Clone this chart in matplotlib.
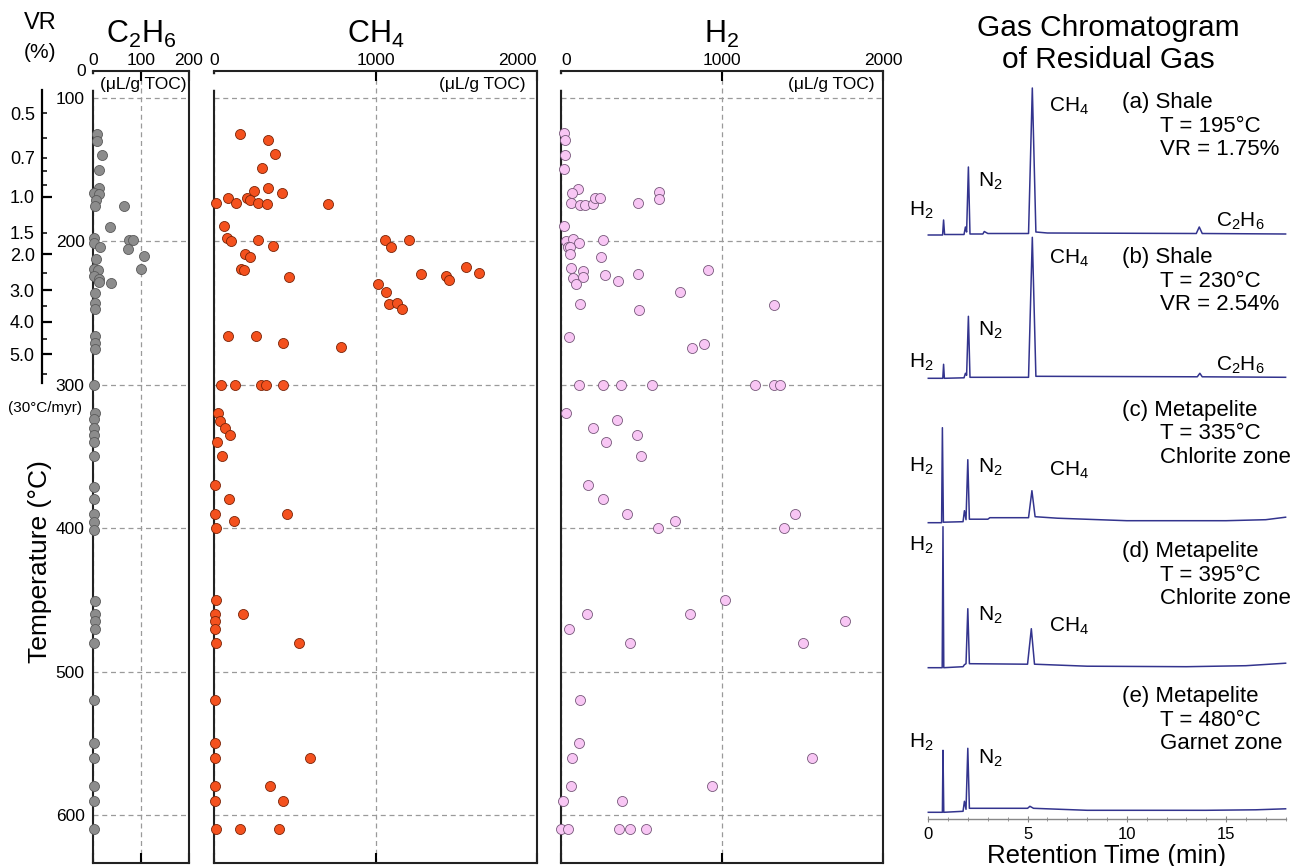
import numpy as np
import matplotlib
matplotlib.use('Agg')
import matplotlib.pyplot as plt
from matplotlib.ticker import FixedLocator, FixedFormatter

plt.rcParams['font.family'] = ['Liberation Sans', 'DejaVu Sans']
plt.rcParams['mathtext.fontset'] = 'custom'
plt.rcParams['mathtext.rm'] = 'Liberation Sans'
plt.rcParams['mathtext.it'] = 'Liberation Sans:italic'
plt.rcParams['mathtext.bf'] = 'Liberation Sans:bold'

# ---- gas contents (uL/g TOC) vs temperature (C) ----
c2h6_temp = [125, 130, 140, 150, 163, 166, 167, 171, 175, 175, 190, 198, 201, 204, 199, 199, 205, 210,
             212, 219, 219, 220, 224, 226, 228, 229, 236, 243, 247, 266, 271, 275, 300, 320, 324, 330,
             335, 340, 350, 371, 380, 390, 396, 401, 451, 460, 465, 470, 480, 520, 550, 560, 580, 590, 610]
c2h6_val = [8, 9, 19, 13, 12, 2, 12, 6, 4, 65, 35, 3, 3, 15, 76, 84, 72, 106,
            6, 100, 2, 10, 2, 13, 13, 38, 4, 4, 4, 4, 4, 4, 3, 5, 3, 3,
            3, 3, 3, 3, 3, 3, 3, 3, 5, 4, 4, 4, 3, 3, 3, 3, 3, 3, 3]

ch4_temp = [125, 129, 139, 149, 165, 163, 166, 173, 170, 173, 170, 171, 173, 174, 174, 189, 198, 200,
            199, 203, 209, 211, 219, 220, 225, 199, 204, 199, 223, 224, 227, 218, 222, 229.5, 235, 244,
            243, 247, 266, 266, 271, 274, 300, 300, 300, 300, 300, 320, 325, 330, 335, 340, 350, 370,
            380, 390, 390, 395, 400, 450, 460, 460, 465, 470, 480, 480, 520, 550, 560, 560, 580, 580,
            590, 590, 610, 610, 610]
ch4_val = [161, 336, 376, 295, 250, 332, 421, 10, 89, 134, 202, 223, 274, 328, 706, 64, 79, 105,
           274, 365, 192, 225, 169, 188, 462, 1061, 1098, 1209, 1280, 1437, 1455, 1560, 1639, 1018, 1065, 1084,
           1131, 1162, 89, 262, 425, 786, 41, 130, 293, 320, 425, 27, 37, 70, 97, 19, 48, 6,
           95, 6, 450, 122, 10, 12, 6, 180, 6, 6, 10, 526, 6, 8, 8, 594, 8, 347,
           8, 429, 10, 161, 402]

h2_temp = [124.6, 129.5, 139.5, 149.5, 163.5, 166, 173, 174.6, 174.6, 173.7, 170, 170, 173, 165.5, 170.6,
           189, 199.7, 198.6, 201, 204, 203.7, 199, 209, 211, 218.8, 220.6, 225.7, 224.6, 229.5, 223.4,
           227.4, 222.5, 219.7, 235.5, 243.4, 247.6, 244.6, 266.4, 274.3, 271.5, 300, 300, 300, 300, 300,
           300, 300, 320, 324.8, 330, 335, 340, 350, 370, 380, 390, 395, 400, 390, 400, 450, 460, 460,
           465, 470, 480, 480, 520, 550, 560, 560, 580, 580, 590, 590, 610, 610, 610, 610, 610]
h2_val = [19, 23, 23, 17, 107, 70, 64, 116, 151, 201, 211, 242, 478, 611, 611,
          17, 29, 77, 114, 42, 58, 263, 56, 247, 62, 135, 73, 135, 91, 273,
          356, 480, 911, 737, 118, 484, 1323, 52, 815, 890, 110, 263, 373, 567, 1205,
          1321, 1362, 31, 346, 201, 470, 278, 499, 170, 259, 408, 710, 601, 1451, 1385, 1019, 159, 801,
          1762, 48, 427, 1501, 120, 110, 66, 1559, 62, 936, 14, 377, 0, 45, 362, 427, 525]

# vitrinite reflectance scale (30 C/myr) : VR value and matching temperature
vr_major = [1.0, 2.0, 3.0, 4.0, 5.0]
vr_major_temp = [168.8, 209.0, 234.1, 256.0, 278.7]
vr_minor = [0.5, 0.6, 0.7, 0.8, 0.9, 1.5, 2.5, 3.5, 4.5, 5.5]
vr_minor_temp = [110.7, 128.1, 141.6, 150.9, 160.9, 193.9, 221.8, 245.0, 267.8, 292.7]
vr_minor_labels = ['0.5', '', '0.7', '', '', '1.5', '', '', '', '']

# ---- chromatograms: retention time (min) and signal above baseline ----
chrom_a_t = [0, 0.72, 0.77, 0.82, 1.80, 1.87, 1.93, 2.02, 2.10, 2.75, 2.82, 3.0, 5.05, 5.24, 5.42, 6.0,
             13.5, 13.65, 13.8, 18.0]
chrom_a_s = [0, 0, 15, 0.5, 0.5, 8, 3, 68, 1, 1, 3.5, 1.5, 1.5, 147, 3, 2, 1.5, 8, 1.5, 1]
chrom_b_t = [0, 0.73, 0.77, 0.81, 1.80, 1.87, 1.93, 2.02, 2.10, 5.05, 5.24, 5.42, 13.55, 13.68, 13.8, 18.0]
chrom_b_s = [0, 0, 14, 0, 0.5, 5, 3, 62, 1, 1, 141, 2, 1.5, 5, 1.5, 1]
chrom_c_t = [0, 0.67, 0.71, 0.76, 1.75, 1.82, 1.90, 1.99, 2.07, 3.0, 3.1, 5.05, 5.22, 5.38, 6.5, 10.0,
             15.0, 17.0, 18.0]
chrom_c_s = [0, 0, 95, 0.5, 1, 12, 3, 63, 3.5, 3.5, 5, 5, 32, 6, 4.5, 2, 2, 3, 5.5]
chrom_d_t = [0, 0.70, 0.74, 0.78, 1.75, 1.82, 1.90, 1.99, 2.07, 5.0, 5.19, 5.35, 8.0, 13.0, 16.0, 18.0]
chrom_d_s = [0, 0, 141, 0, 1, 3, 4, 59, 4, 3.5, 39, 3.5, 1.5, 1, 2, 4.5]
chrom_e_t = [0, 0.71, 0.74, 0.78, 1.75, 1.82, 1.90, 1.99, 2.07, 5.0, 5.12, 5.3, 8.0, 14.0, 16.5, 18.0]
chrom_e_s = [0, 0, 62, 0, 1, 11, 3, 64, 4, 4, 6, 4, 2, 2, 2.5, 3.5]

W, H = 1292, 866
fig = plt.figure(figsize=(W / 100, H / 100), dpi=100)

def fbox(x0, x1, y0, y1):
    return [x0 / W, 1 - y1 / H, (x1 - x0) / W, (y1 - y0) / H]

TOP_T, BOT_T = 81.2, 633.5
grid_kw = dict(color='#9a9a9a', linestyle=(0, (4, 3)), linewidth=0.9)

def gas_panel(box, xmax, xticks, temp, val, fc, ec, title, unit_x):
    ax = fig.add_axes(box)
    ax.set_xlim(0, xmax)
    ax.set_ylim(BOT_T, TOP_T)
    ax.set_xticks(xticks)
    ax.set_yticks([100, 200, 300, 400, 500, 600])
    ax.tick_params(axis='x', which='both', direction='in', top=True, bottom=True,
                   labeltop=True, labelbottom=False, length=7, width=1.5, labelsize=12.5, pad=2)
    ax.tick_params(axis='y', length=0, labelsize=12.5, pad=6)
    ax.grid(True, **grid_kw)
    ax.set_axisbelow(True)
    for sp in ax.spines.values():
        sp.set_linewidth(1.5)
        sp.set_color('#222222')
    ax.scatter(val, temp, s=52, c=fc, edgecolors=ec, linewidths=0.6, zorder=4, clip_on=False)
    # small break in the left spine near the top
    ax.plot([0, 0], [85.5, 92.5], color='white', lw=4, transform=ax.get_yaxis_transform(),
            clip_on=False, zorder=5)
    ax.text(unit_x, 90.3, '(\u03bcL/g TOC)', transform=ax.get_yaxis_transform(),
            ha='right', va='center', fontsize=12.5)
    ax.set_title(title, fontsize=22, pad=20)
    return ax

ax_c2 = gas_panel(fbox(93, 189, 71, 863), 200, [0, 100, 200], c2h6_temp, c2h6_val,
                  '#8c8c8c', '#5a5a5a', r'C$_2$H$_6$', 0.97)
ax_ch4 = gas_panel(fbox(214, 537, 71, 863), 2000, [0, 1000, 2000], ch4_temp, ch4_val,
                   '#f4511e', '#7a2408', r'CH$_4$', 0.965)
ax_h2 = gas_panel(fbox(561, 883, 71, 863), 2000, [0, 1000, 2000], h2_temp, h2_val,
                  '#f8c6f4', '#76587a', r'H$_2$', 0.975)
for ax in (ax_ch4, ax_h2):
    ax.tick_params(axis='y', labelleft=False)
fig.canvas.draw()
ax_ch4.get_xticklabels()[-1].set_horizontalalignment('right')
ax_h2.get_xticklabels()[0].set_horizontalalignment('left')
ax_c2.text(-0.075, 81.7, '0', transform=ax_c2.get_yaxis_transform(), ha='right', va='center',
           fontsize=12.5)

# VR scale
ax_vr = fig.add_axes(fbox(41.7, 42.5, 71, 863))
ax_vr.set_ylim(BOT_T, TOP_T)
ax_vr.set_xticks([])
for k in ('top', 'right', 'bottom'):
    ax_vr.spines[k].set_visible(False)
ax_vr.patch.set_visible(False)
ax_vr.spines['left'].set_linewidth(1.6)
ax_vr.spines['left'].set_bounds(94.4, 298.5)
ax_vr.yaxis.set_major_locator(FixedLocator(vr_major_temp))
ax_vr.yaxis.set_major_formatter(FixedFormatter(['%.1f' % v for v in vr_major]))
ax_vr.yaxis.set_minor_locator(FixedLocator(vr_minor_temp))
ax_vr.yaxis.set_minor_formatter(FixedFormatter(vr_minor_labels))
ax_vr.tick_params(axis='y', which='major', direction='in', length=7.5, width=1.6, labelsize=13, pad=5)
ax_vr.tick_params(axis='y', which='minor', direction='in', length=3.8, width=1.1, labelsize=13, pad=5)

fig.text(40 / W, 1 - 23 / H, 'VR', ha='center', va='center', fontsize=17)
fig.text(40 / W, 1 - 52 / H, '(%)', ha='center', va='center', fontsize=15)
fig.text(45 / W, 1 - 408 / H, '(30\u00b0C/myr)', ha='center', va='center', fontsize=11)
fig.text(40 / W, 1 - 562 / H, 'Temperature (\u00b0C)', ha='center', va='center', rotation=90,
         fontsize=19)

# chromatograms
axg = fig.add_axes(fbox(928.3, 1285.6, 70, 819))
axg.set_xlim(0, 18)
axg.set_ylim(47, 796)
traces = [(chrom_a_t, chrom_a_s, 631), (chrom_b_t, chrom_b_s, 487.7), (chrom_c_t, chrom_c_s, 343.3),
          (chrom_d_t, chrom_d_s, 198.3), (chrom_e_t, chrom_e_s, 53.7)]
for t, s, base in traces:
    axg.plot(t, np.array(s) + base, color='#33348e', lw=1.1, clip_on=False)
for k in ('top', 'right', 'left'):
    axg.spines[k].set_visible(False)
axg.spines['bottom'].set_color('#888888')
axg.spines['bottom'].set_linewidth(1)
axg.set_yticks([])
axg.set_xticks([0, 5, 10, 15])
axg.set_xticks(np.arange(0, 19, 1), minor=True)
axg.tick_params(axis='x', which='major', direction='inout', length=5, color='#888888', labelsize=12, pad=3)
axg.tick_params(axis='x', which='minor', direction='inout', length=3, color='#888888')
axg.set_xlabel('Retention Time (min)', fontsize=18.5, labelpad=2)
axg.patch.set_visible(False)

def px(x, y):
    return (x - 928.3) / 19.85, 866 - y

lab_kw = dict(fontsize=15, ha='center', va='center')
species = [
    (921.7, 210.7, r'H$_2$'), (990, 181.7, r'N$_2$'), (1069, 106, r'CH$_4$'), (1240, 221.7, r'C$_2$H$_6$'),
    (921.7, 362.7, r'H$_2$'), (990, 330, r'N$_2$'), (1069, 258.3, r'CH$_4$'), (1240, 365, r'C$_2$H$_6$'),
    (921.7, 466.7, r'H$_2$'), (990, 467, r'N$_2$'), (1069, 470, r'CH$_4$'),
    (921.7, 545, r'H$_2$'), (990, 615, r'N$_2$'), (1069, 626.7, r'CH$_4$'),
    (921.7, 742.7, r'H$_2$'), (990, 758.3, r'N$_2$'),
]
for x, y, s in species:
    axg.text(*px(x, y), s, clip_on=False, **lab_kw)

samples = [
    (102.7, ['(a) Shale', 'T = 195\u00b0C', 'VR = 1.75%']),
    (257.7, ['(b) Shale', 'T = 230\u00b0C', 'VR = 2.54%']),
    (410, ['(c) Metapelite', 'T = 335\u00b0C', 'Chlorite zone']),
    (551.7, ['(d) Metapelite', 'T = 395\u00b0C', 'Chlorite zone']),
    (696.7, ['(e) Metapelite', 'T = 480\u00b0C', 'Garnet zone']),
]
for y0, lines in samples:
    axg.text(*px(1121.7, y0), lines[0], fontsize=16, ha='left', va='center', clip_on=False)
    axg.text(*px(1160, y0 + 23.5), lines[1], fontsize=16, ha='left', va='center', clip_on=False)
    axg.text(*px(1160, y0 + 47), lines[2], fontsize=16, ha='left', va='center', clip_on=False)

fig.text(1108 / W, 1 - 28 / H, 'Gas Chromatogram', ha='center', va='center', fontsize=21.5)
fig.text(1108 / W, 1 - 60 / H, 'of Residual Gas', ha='center', va='center', fontsize=21.5)

fig.savefig('out.png', dpi=100)
